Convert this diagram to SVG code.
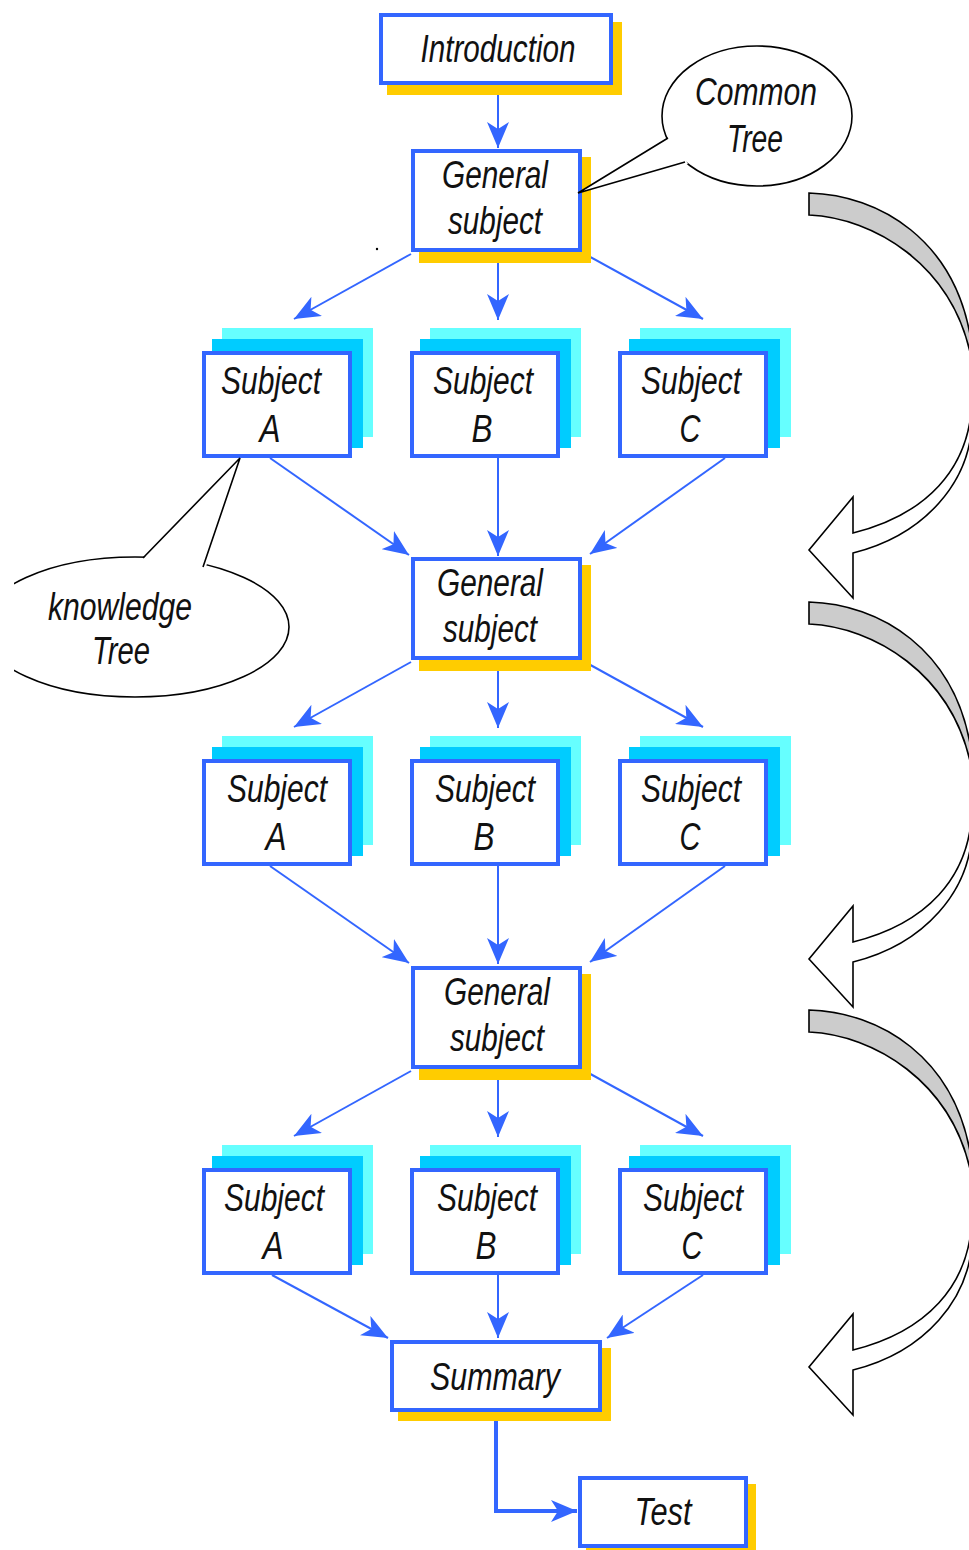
<svg xmlns="http://www.w3.org/2000/svg" xmlns:xlink="http://www.w3.org/1999/xlink" width="969" height="1550" viewBox="0 0 969 1550">
  <style>
    .box{fill:#fff;stroke:#3366ff;stroke-width:4}
    .shadow{fill:#ffcc00}
    .layer-far{fill:#66ffff}
    .layer-mid{fill:#00ccff}
    .lbl{font-family:"Liberation Sans",Arial,sans-serif;font-style:italic;font-size:38px;fill:#111;text-anchor:middle}
    .conn{stroke:#3366ff;stroke-width:2;fill:none;marker-end:url(#ah)}
    .conn-thick{stroke:#3366ff;stroke-width:4;fill:none;marker-end:url(#ah)}
    .callout{fill:#fff;stroke:#000;stroke-width:1.6}
    .tail{fill:none;stroke:#000;stroke-width:1.6;stroke-linejoin:miter}
    .back{fill:#cccccc;stroke:#000;stroke-width:1.6}
    .front{fill:#fff;stroke:#000;stroke-width:1.6}
  </style>
  <defs>
    <marker id="ah" viewBox="0 0 26 22" refX="26" refY="11" markerWidth="26" markerHeight="22" markerUnits="userSpaceOnUse" orient="auto">
      <path d="M0,0 L26,11 L0,22 L7,11 Z" fill="#3366ff"/>
    </marker>
    <clipPath id="leftEdge"><rect x="14" y="0" width="955" height="1550"/></clipPath>
    <!-- one turn of the curved return arrow: grey back side, white front side with head -->
    <g id="turn">
      <path class="back" d="M809,193 C880,195 955,240 971,340 L970,352 C950,265 875,218 809,215 Z"/>
      <path class="front" d="M972,400 C970,470 925,515 853,533 L853,497 L809,550 L853,598 L853,553 C925,535 970,482 972,422 Z"/>
    </g>
  </defs>

  <rect width="969" height="1550" fill="#fff"/>

  <!-- return arrows along the right side -->
  <g id="cycle-arrows">
    <use xlink:href="#turn"/>
    <use xlink:href="#turn" transform="translate(0,409)"/>
    <use xlink:href="#turn" transform="translate(0,817)"/>
  </g>

  <!-- connectors -->
  <g id="connectors">
    <path class="conn" d="M498,85 L498,148"/>
    <path class="conn" d="M411,254 L294,319"/>
    <path class="conn" d="M498,253 L498,320"/>
    <path class="conn" d="M585,254 L703,319"/>
    <path class="conn" d="M270,458 L409,555"/>
    <path class="conn" d="M498,458 L498,556"/>
    <path class="conn" d="M725,458 L590,554"/>
    <path class="conn" d="M411,662 L294,727"/>
    <path class="conn" d="M498,661 L498,728"/>
    <path class="conn" d="M585,662 L703,727"/>
    <path class="conn" d="M270,866 L409,963"/>
    <path class="conn" d="M498,866 L498,964"/>
    <path class="conn" d="M725,866 L590,962"/>
    <path class="conn" d="M411,1071 L294,1136"/>
    <path class="conn" d="M498,1070 L498,1137"/>
    <path class="conn" d="M585,1071 L703,1136"/>
    <path class="conn" d="M272,1275 L388,1338"/>
    <path class="conn" d="M498,1275 L498,1338"/>
    <path class="conn" d="M703,1275 L607,1338"/>
    <path class="conn-thick" d="M496,1412 L496,1511 L577,1511"/>
  </g>

  <circle cx="377" cy="249" r="1.2" fill="#000"/>

  <g id="intro">
    <rect class="shadow" x="387" y="22" width="235" height="73"/>
    <rect class="box" x="381" y="15" width="230" height="68"/>
    <text class="lbl" x="498" y="62" textLength="155" lengthAdjust="spacingAndGlyphs">Introduction</text>
  </g>

  <g id="general-1">
    <rect class="shadow" x="419" y="157" width="172" height="106"/>
    <rect class="box" x="413" y="151" width="167" height="99"/>
    <text class="lbl" x="495" y="188" textLength="106" lengthAdjust="spacingAndGlyphs">General</text>
    <text class="lbl" x="495" y="234" textLength="94" lengthAdjust="spacingAndGlyphs">subject</text>
  </g>

  <g id="general-2">
    <rect class="shadow" x="419" y="565" width="172" height="106"/>
    <rect class="box" x="413" y="559" width="167" height="99"/>
    <text class="lbl" x="490" y="596" textLength="106" lengthAdjust="spacingAndGlyphs">General</text>
    <text class="lbl" x="490" y="642" textLength="94" lengthAdjust="spacingAndGlyphs">subject</text>
  </g>

  <g id="general-3">
    <rect class="shadow" x="419" y="974" width="172" height="106"/>
    <rect class="box" x="413" y="968" width="167" height="99"/>
    <text class="lbl" x="497" y="1005" textLength="106" lengthAdjust="spacingAndGlyphs">General</text>
    <text class="lbl" x="497" y="1051" textLength="94" lengthAdjust="spacingAndGlyphs">subject</text>
  </g>

  <!-- subject stacks, row 1 -->
  <g id="subject-a-1">
    <rect class="layer-far" x="222" y="328" width="151" height="109"/>
    <rect class="layer-mid" x="212" y="339" width="151" height="109"/>
    <rect class="box" x="204" y="353" width="146" height="103"/>
    <text class="lbl" x="271" y="394" textLength="100" lengthAdjust="spacingAndGlyphs">Subject</text>
    <text class="lbl" x="270" y="442" textLength="21" lengthAdjust="spacingAndGlyphs">A</text>
  </g>
  <g id="subject-b-1">
    <rect class="layer-far" x="430" y="328" width="151" height="109"/>
    <rect class="layer-mid" x="420" y="339" width="151" height="109"/>
    <rect class="box" x="412" y="353" width="146" height="103"/>
    <text class="lbl" x="483" y="394" textLength="100" lengthAdjust="spacingAndGlyphs">Subject</text>
    <text class="lbl" x="482" y="442" textLength="21" lengthAdjust="spacingAndGlyphs">B</text>
  </g>
  <g id="subject-c-1">
    <rect class="layer-far" x="640" y="328" width="151" height="109"/>
    <rect class="layer-mid" x="629" y="339" width="151" height="109"/>
    <rect class="box" x="620" y="353" width="146" height="103"/>
    <text class="lbl" x="691" y="394" textLength="100" lengthAdjust="spacingAndGlyphs">Subject</text>
    <text class="lbl" x="690" y="442" textLength="21" lengthAdjust="spacingAndGlyphs">C</text>
  </g>

  <!-- subject stacks, row 2 -->
  <g id="subject-a-2">
    <rect class="layer-far" x="222" y="736" width="151" height="109"/>
    <rect class="layer-mid" x="212" y="747" width="151" height="109"/>
    <rect class="box" x="204" y="761" width="146" height="103"/>
    <text class="lbl" x="277" y="802" textLength="100" lengthAdjust="spacingAndGlyphs">Subject</text>
    <text class="lbl" x="276" y="850" textLength="21" lengthAdjust="spacingAndGlyphs">A</text>
  </g>
  <g id="subject-b-2">
    <rect class="layer-far" x="430" y="736" width="151" height="109"/>
    <rect class="layer-mid" x="420" y="747" width="151" height="109"/>
    <rect class="box" x="412" y="761" width="146" height="103"/>
    <text class="lbl" x="485" y="802" textLength="100" lengthAdjust="spacingAndGlyphs">Subject</text>
    <text class="lbl" x="484" y="850" textLength="21" lengthAdjust="spacingAndGlyphs">B</text>
  </g>
  <g id="subject-c-2">
    <rect class="layer-far" x="640" y="736" width="151" height="109"/>
    <rect class="layer-mid" x="629" y="747" width="151" height="109"/>
    <rect class="box" x="620" y="761" width="146" height="103"/>
    <text class="lbl" x="691" y="802" textLength="100" lengthAdjust="spacingAndGlyphs">Subject</text>
    <text class="lbl" x="690" y="850" textLength="21" lengthAdjust="spacingAndGlyphs">C</text>
  </g>

  <!-- subject stacks, row 3 -->
  <g id="subject-a-3">
    <rect class="layer-far" x="222" y="1145" width="151" height="109"/>
    <rect class="layer-mid" x="212" y="1156" width="151" height="109"/>
    <rect class="box" x="204" y="1170" width="146" height="103"/>
    <text class="lbl" x="274" y="1211" textLength="100" lengthAdjust="spacingAndGlyphs">Subject</text>
    <text class="lbl" x="273" y="1259" textLength="21" lengthAdjust="spacingAndGlyphs">A</text>
  </g>
  <g id="subject-b-3">
    <rect class="layer-far" x="430" y="1145" width="151" height="109"/>
    <rect class="layer-mid" x="420" y="1156" width="151" height="109"/>
    <rect class="box" x="412" y="1170" width="146" height="103"/>
    <text class="lbl" x="487" y="1211" textLength="100" lengthAdjust="spacingAndGlyphs">Subject</text>
    <text class="lbl" x="486" y="1259" textLength="21" lengthAdjust="spacingAndGlyphs">B</text>
  </g>
  <g id="subject-c-3">
    <rect class="layer-far" x="640" y="1145" width="151" height="109"/>
    <rect class="layer-mid" x="629" y="1156" width="151" height="109"/>
    <rect class="box" x="620" y="1170" width="146" height="103"/>
    <text class="lbl" x="693" y="1211" textLength="100" lengthAdjust="spacingAndGlyphs">Subject</text>
    <text class="lbl" x="692" y="1259" textLength="21" lengthAdjust="spacingAndGlyphs">C</text>
  </g>

  <g id="summary">
    <rect class="shadow" x="398" y="1348" width="213" height="73"/>
    <rect class="box" x="392" y="1342" width="208" height="68"/>
    <text class="lbl" x="495" y="1390" textLength="130" lengthAdjust="spacingAndGlyphs">Summary</text>
  </g>

  <g id="test">
    <rect class="shadow" x="586" y="1484" width="170" height="72"/>
    <rect class="box" x="580" y="1478" width="166" height="68"/>
    <text class="lbl" x="663" y="1525" textLength="57" lengthAdjust="spacingAndGlyphs">Test</text>
  </g>

  <!-- speech-bubble notes -->
  <g id="common-tree">
    <ellipse class="callout" cx="757" cy="116" rx="95" ry="70"/>
    <polygon points="671,136 578,193 688,164" fill="#fff"/>
    <polyline class="tail" points="668,138 578,193 685,162"/>
    <text class="lbl" x="756" y="105" textLength="122" lengthAdjust="spacingAndGlyphs">Common</text>
    <text class="lbl" x="755" y="152" textLength="56" lengthAdjust="spacingAndGlyphs">Tree</text>
  </g>

  <g id="knowledge-tree" clip-path="url(#leftEdge)">
    <ellipse class="callout" cx="135" cy="627" rx="154" ry="70"/>
    <polygon points="141,561 240,458 205,570" fill="#fff"/>
    <polyline class="tail" points="143,558 240,458 203,567"/>
    <text class="lbl" x="120" y="620" textLength="144" lengthAdjust="spacingAndGlyphs">knowledge</text>
    <text class="lbl" x="121" y="664" textLength="58" lengthAdjust="spacingAndGlyphs">Tree</text>
  </g>
</svg>
